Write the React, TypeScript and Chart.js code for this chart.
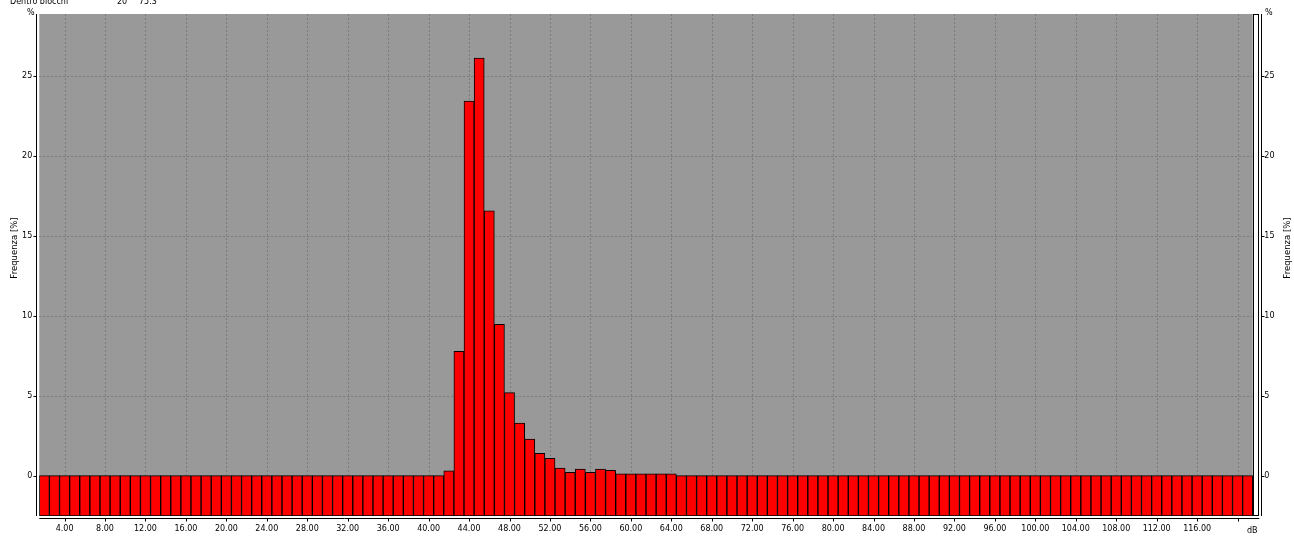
import React, { useEffect, useRef } from 'react';
import { Chart, registerables } from 'chart.js';

Chart.register(...registerables);

// dB classes (bar centres)
const dbClasses: number[] = [
  2, 3, 4, 5, 6, 7, 8, 9, 10, 11, 12, 13, 14, 15, 16, 17, 18, 19, 20, 21,
  22, 23, 24, 25, 26, 27, 28, 29, 30, 31, 32, 33, 34, 35, 36, 37, 38, 39, 40, 41,
  42, 43, 44, 45, 46, 47, 48, 49, 50, 51, 52, 53, 54, 55, 56, 57, 58, 59, 60, 61,
  62, 63, 64, 65, 66, 67, 68, 69, 70, 71, 72, 73, 74, 75, 76, 77, 78, 79, 80, 81,
  82, 83, 84, 85, 86, 87, 88, 89, 90, 91, 92, 93, 94, 95, 96, 97, 98, 99, 100, 101,
  102, 103, 104, 105, 106, 107, 108, 109, 110, 111, 112, 113, 114, 115, 116, 117, 118, 119, 120, 121,
];

// Frequency [%] per class
const frequencies: number[] = [
  0, 0, 0, 0, 0, 0, 0, 0, 0, 0, 0, 0, 0, 0, 0, 0, 0, 0, 0, 0,
  0, 0, 0, 0, 0, 0, 0, 0, 0, 0, 0, 0, 0, 0, 0, 0, 0, 0, 0, 0,
  0.31, 7.78, 23.42, 26.1, 16.56, 9.46, 5.19, 3.29, 2.29, 1.4, 1.09, 0.48, 0.21, 0.42, 0.21, 0.42, 0.34, 0.11, 0.11, 0.11,
  0.11, 0.11, 0.11, 0, 0, 0, 0, 0, 0, 0, 0, 0, 0, 0, 0, 0, 0, 0, 0, 0,
  0, 0, 0, 0, 0, 0, 0, 0, 0, 0, 0, 0, 0, 0, 0, 0, 0, 0, 0, 0,
  0, 0, 0, 0, 0, 0, 0, 0, 0, 0, 0, 0, 0, 0, 0, 0, 0, 0, 0, 0,
];

const xTickValues: number[] = [4, 8, 12, 16, 20, 24, 28, 32, 36, 40, 44, 48, 52, 56, 60, 64, 68, 72, 76, 80, 84, 88, 92, 96, 100, 104, 108, 112, 116, 120];
const yTickValues: number[] = [0, 5, 10, 15, 20, 25];

const headerLabel = 'Dentro blocchi';
const headerCount = '20';
const headerValue = '75.3';
const yTitle = 'Frequenza [%]';
const yUnit = '%';
const xUnit = 'dB';

const X_MIN = 1.5;
const X_MAX = 122.05;
const BAR_END = 121.5;
const Y_MIN = -2.52;
const Y_MAX = 28.86;

const FONT_FAMILY = "'DejaVu Sans', Verdana, sans-serif";
const FONT_SIZE = 8;

const decorPlugin = {
  id: 'decor',
  beforeDatasetsDraw(chart: any) {
    const { ctx, chartArea } = chart;
    const xs = chart.scales.x;
    const ys = chart.scales.y;
    const { left, right, top, bottom } = chartArea;
    ctx.save();
    ctx.fillStyle = '#999999';
    ctx.fillRect(left, top, right - left, bottom - top);
    // grid
    ctx.strokeStyle = '#7c7c7c';
    ctx.lineWidth = 1;
    ctx.setLineDash([2, 2]);
    xTickValues.forEach((v) => {
      const x = Math.round(xs.getPixelForValue(v)) + 0.5;
      ctx.beginPath();
      ctx.moveTo(x, top);
      ctx.lineTo(x, bottom);
      ctx.stroke();
    });
    yTickValues.forEach((v) => {
      const y = Math.round(ys.getPixelForValue(v)) + 0.5;
      ctx.beginPath();
      ctx.moveTo(left, y);
      ctx.lineTo(right, y);
      ctx.stroke();
    });
    ctx.setLineDash([]);
    // white end band
    const xe = xs.getPixelForValue(BAR_END);
    ctx.fillStyle = '#ffffff';
    ctx.fillRect(xe, top, right - xe, bottom - top);
    ctx.strokeStyle = '#000';
    ctx.strokeRect(Math.round(xe) + 0.5, top + 0.5, Math.round(right - xe) - 1, bottom - top - 1);
    ctx.restore();
  },
  afterDraw(chart: any) {
    const { ctx, chartArea } = chart;
    const xs = chart.scales.x;
    const ys = chart.scales.y;
    const { left, right, top, bottom } = chartArea;
    ctx.save();
    ctx.strokeStyle = '#000';
    ctx.lineWidth = 1;
    const axL = 36.5;
    const axR = 1261.5;
    const axB = 518.5;
    ctx.beginPath();
    ctx.moveTo(axL, top);
    ctx.lineTo(axL, bottom);
    ctx.moveTo(axR, top);
    ctx.lineTo(axR, bottom);
    ctx.moveTo(left, axB);
    ctx.lineTo(right + 1, axB);
    yTickValues.forEach((v) => {
      const y = Math.round(ys.getPixelForValue(v)) + 0.5;
      ctx.moveTo(axL - 3, y);
      ctx.lineTo(axL, y);
      ctx.moveTo(axR, y);
      ctx.lineTo(axR + 3, y);
    });
    xTickValues.forEach((v) => {
      const x = Math.round(xs.getPixelForValue(v)) + 0.5;
      ctx.moveTo(x, axB);
      ctx.lineTo(x, axB + 3);
    });
    ctx.stroke();

    ctx.fillStyle = '#000';
    ctx.font = `${FONT_SIZE}px ${FONT_FAMILY}`;
    ctx.textBaseline = 'alphabetic';
    ctx.textAlign = 'left';
    ctx.fillText(headerLabel, 10, 3.5);
    ctx.fillText(headerCount, 117, 3.5);
    ctx.fillText(headerValue, 139, 3.5);
    ctx.fillText(yUnit, 27, 15);
    ctx.fillText(yUnit, 1265, 15);
    ctx.fillText(xUnit, 1247, 533);

    ctx.font = `8.5px ${FONT_FAMILY}`;
    const drawTitle = (cx: number, cy: number) => {
      ctx.save();
      ctx.translate(cx, cy);
      ctx.rotate(-Math.PI / 2);
      ctx.textAlign = 'center';
      ctx.textBaseline = 'middle';
      ctx.fillText(yTitle, 0, 0);
      ctx.restore();
    };
    drawTitle(15, 248);
    drawTitle(1288, 248);
    ctx.restore();
  },
};

export default function App() {
  const canvasRef = useRef<HTMLCanvasElement | null>(null);

  useEffect(() => {
    const canvas = canvasRef.current;
    if (!canvas) return;
    const font = { family: FONT_FAMILY, size: FONT_SIZE };
    const chart = new Chart(canvas, {
      type: 'bar',
      data: {
        datasets: [
          {
            data: dbClasses.map((x, i) => ({ x, y: frequencies[i] })),
            backgroundColor: '#ff0000',
            borderColor: '#000000',
            borderWidth: 1,
            borderSkipped: false,
            base: Y_MIN,
            barPercentage: 1,
            categoryPercentage: 1,
          } as any,
        ],
      },
      options: {
        animation: false,
        responsive: false,
        maintainAspectRatio: false,
        layout: { padding: { top: 14, left: 0, right: 0, bottom: 0 } },
        plugins: { legend: { display: false }, tooltip: { enabled: false }, title: { display: false } },
        scales: {
          x: {
            type: 'linear',
            offset: false,
            min: X_MIN,
            max: X_MAX,
            afterBuildTicks: (s: any) => {
              s.ticks = xTickValues.map((v) => ({ value: v }));
            },
            afterFit: (s: any) => {
              s.height = 22;
            },
            ticks: {
              autoSkip: false,
              maxRotation: 0,
              minRotation: 0,
              padding: 8,
              color: '#000',
              font,
              callback: (v: any) => (v === 120 ? '' : Number(v).toFixed(2)),
            },
            grid: { display: false, drawTicks: false, offset: false },
            border: { display: false },
          },
          y: {
            type: 'linear',
            position: 'left',
            min: Y_MIN,
            max: Y_MAX,
            afterBuildTicks: (s: any) => {
              s.ticks = yTickValues.map((v) => ({ value: v }));
            },
            afterFit: (s: any) => {
              s.width = 39.3;
            },
            ticks: { padding: 7, color: '#000', font, callback: (v: any) => String(v) },
            grid: { display: false, drawTicks: false },
            border: { display: false },
          },
          y2: {
            type: 'linear',
            position: 'right',
            min: Y_MIN,
            max: Y_MAX,
            afterBuildTicks: (s: any) => {
              s.ticks = yTickValues.map((v) => ({ value: v }));
            },
            afterFit: (s: any) => {
              s.width = 35.7;
            },
            ticks: { padding: 6, color: '#000', font, callback: (v: any) => String(v) },
            grid: { display: false, drawTicks: false },
            border: { display: false },
          },
        },
      },
      plugins: [decorPlugin],
    } as any);
    return () => chart.destroy();
  }, []);

  return (
    <div style={{ position: 'absolute', left: 0, top: 0, width: 1294, height: 538, background: '#fff' }}>
      <canvas ref={canvasRef} width={1294} height={538} style={{ display: 'block', width: 1294, height: 538 }} />
    </div>
  );
}
